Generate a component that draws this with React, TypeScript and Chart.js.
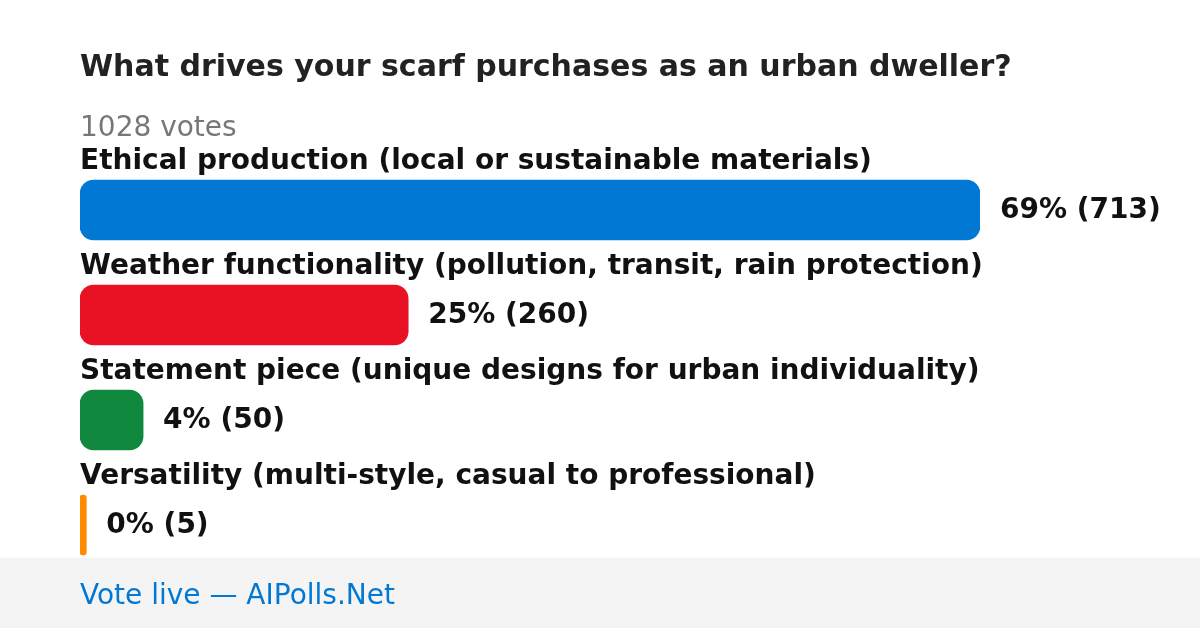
import React, { useEffect, useRef, useState } from "react";
import { Chart, registerables } from "chart.js";

Chart.register(...registerables);

const TITLE = "What drives your scarf purchases as an urban dweller?";
const TOTAL_LABEL = "1028 votes";
const FOOTER = "Vote live — AIPolls.Net";

const categories = [
  "Ethical production (local or sustainable materials)",
  "Weather functionality (pollution, transit, rain protection)",
  "Statement piece (unique designs for urban individuality)",
  "Versatility (multi-style, casual to professional)",
];
const votes = [713, 260, 50, 5];
const percents = [69, 25, 4, 0];
const colors = ["#0078d4", "#e81224", "#10893e", "#ff8c00"];

const FONT = "'DejaVu Sans'";
const W = 1200;
const H = 628;
const BASE = 23.5; // baseline offset for 28px DejaVu Sans with line-height 28px
const TITLE_BASE = 25.5; // baseline offset for 30px

type BarPos = { x: number; y: number; top: number };

const textStyle = (extra: React.CSSProperties): React.CSSProperties => ({
  position: "absolute",
  fontFamily: FONT,
  fontSize: 28,
  lineHeight: "28px",
  whiteSpace: "nowrap",
  ...extra,
});

export default function App() {
  const ref = useRef<HTMLCanvasElement | null>(null);
  const [bars, setBars] = useState<BarPos[]>([]);

  useEffect(() => {
    if (!ref.current) return;
    const chart = new Chart(ref.current, {
      type: "bar",
      data: {
        labels: categories,
        datasets: [
          {
            data: votes,
            backgroundColor: colors,
            borderRadius: 14,
            borderSkipped: false,
            barThickness: 60,
          },
        ],
      },
      options: {
        indexAxis: "y",
        responsive: false,
        animation: false,
        maintainAspectRatio: false,
        layout: { padding: { left: 80, right: 220, top: 157.5, bottom: 50.5 } },
        scales: {
          x: { display: false, min: 0, max: 713 },
          y: { display: false },
        },
        plugins: {
          legend: { display: false },
          tooltip: { enabled: false },
        },
      },
    });
    const meta = chart.getDatasetMeta(0);
    setBars(
      meta.data.map((el: any) => ({ x: el.x, y: el.y, top: el.y - el.height / 2 }))
    );
    return () => chart.destroy();
  }, []);

  return (
    <div style={{ position: "fixed", left: 0, top: 0, width: W, height: H, background: "#ffffff", overflow: "hidden" }}>
      <div style={{ position: "absolute", left: 0, top: 558, width: W, height: H - 558, background: "#f4f4f4" }} />
      <canvas ref={ref} width={W} height={H} style={{ position: "absolute", left: 0, top: 0, width: W, height: H }} />
      <div
        style={textStyle({
          left: 80,
          top: 76 - TITLE_BASE,
          fontSize: 30,
          lineHeight: "30px",
          fontWeight: "bold",
          color: "#222222",
        })}
      >
        {TITLE}
      </div>
      <div style={textStyle({ left: 80, top: 136 - BASE, color: "#777777" })}>{TOTAL_LABEL}</div>
      {bars.map((b, i) => (
        <React.Fragment key={i}>
          <div style={textStyle({ left: 80, top: b.top - 11 - BASE, fontWeight: "bold", color: "#111111" })}>
            {categories[i]}
          </div>
          <div style={textStyle({ left: b.x + 20, top: b.y + 8 - BASE, fontWeight: "bold", color: "#111111" })}>
            {`${percents[i]}% (${votes[i]})`}
          </div>
        </React.Fragment>
      ))}
      <div style={textStyle({ left: 80, top: 604 - BASE, color: "#0078d4" })}>{FOOTER}</div>
    </div>
  );
}
